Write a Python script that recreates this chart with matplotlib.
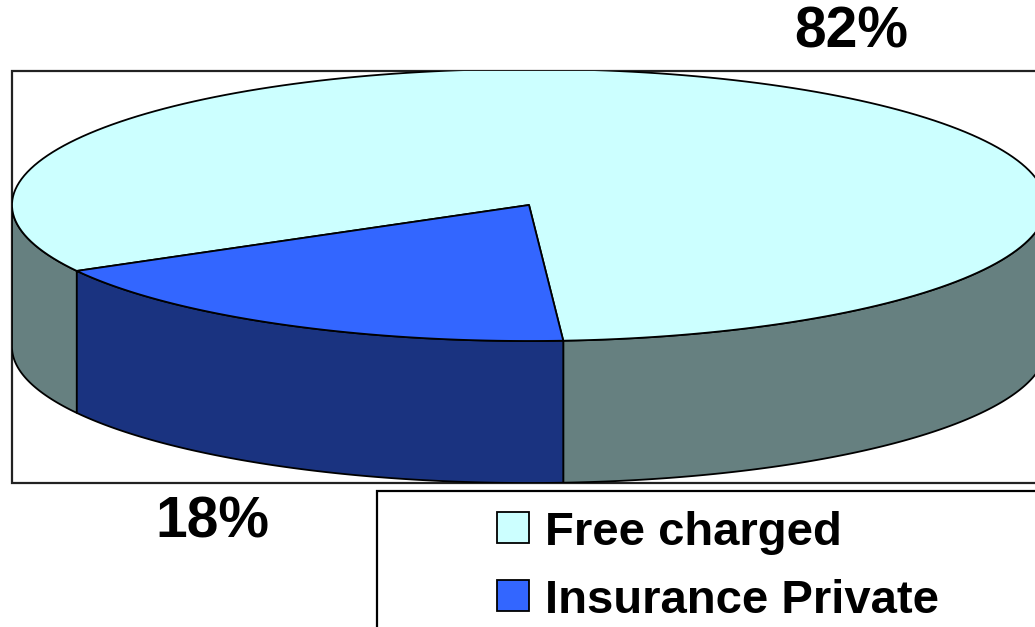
import numpy as np
import matplotlib.pyplot as plt
from matplotlib.patches import Polygon, Rectangle

# data
labels = ["Free charged", "Insurance Private"]
values = [82, 18]
pct_labels = ["82%", "18%"]
top_colors = ["#CCFFFF", "#3366FF"]
side_colors = ["#668080", "#1A3380"]

# layout (pixel units, y down)
W, H = 1035, 627
cx, cy = 529, 205
rx, ry = 517, 136
depth = 142
start = 151.0  # where the first slice starts, degrees, clockwise on screen
EDGE = dict(edgecolor="black", linewidth=1.3, joinstyle="round")

fig = plt.figure(figsize=(W / 100, H / 100), dpi=100)
ax = fig.add_axes([0, 0, 1, 1])
ax.set_xlim(0, W)
ax.set_ylim(H, 0)
ax.axis("off")

# plot area frame
frame = Rectangle((12, 71), 1060, 412, facecolor="white", edgecolor="#222222", linewidth=1.6, zorder=1)
ax.add_patch(frame)


def rim(t0, t1, dy=0.0, n=200):
    t = np.radians(np.linspace(t0, t1, n))
    return np.column_stack([cx + rx * np.cos(t), cy + dy + ry * np.sin(t)])


bounds = start + np.concatenate([[0], np.cumsum(values)]) * 360.0 / sum(values)

# side walls (only front half is visible: 0..180 deg)
for i in range(len(values)):
    a0, a1 = bounds[i], bounds[i + 1]
    for k in range(-1, 3):
        lo, hi = max(a0, 360 * k), min(a1, 360 * k + 180)
        if hi <= lo:
            continue
        pts = np.vstack([rim(lo, hi), rim(lo, hi, depth)[::-1]])
        p = Polygon(pts, closed=True, facecolor=side_colors[i], zorder=2, **EDGE)
        ax.add_patch(p)
        p.set_clip_path(frame)

# top surface
for i in range(len(values)):
    pts = np.vstack([[cx, cy], rim(bounds[i], bounds[i + 1])])
    p = Polygon(pts, closed=True, facecolor=top_colors[i], zorder=3, **EDGE)
    ax.add_patch(p)
    p.set_clip_path(frame)

# percentage labels
font = "Liberation Sans"
ax.text(851, 47, pct_labels[0], ha="center", va="baseline", fontsize=41,
        fontweight="bold", family=font, zorder=5)
ax.text(212, 537, pct_labels[1], ha="center", va="baseline", fontsize=41,
        fontweight="bold", family=font, zorder=5)

# legend
ax.add_patch(Rectangle((377, 491), 800, 300, facecolor="white", edgecolor="black",
                       linewidth=1.6, zorder=4))
for i, lab in enumerate(labels):
    y0 = 512 + i * 68
    ax.add_patch(Rectangle((497, y0), 32, 31, facecolor=top_colors[i], edgecolor="black",
                           linewidth=1.3, zorder=5))
    ax.text(545, y0 + 33, lab, ha="left", va="baseline", fontsize=34,
            fontweight="bold", family=font, zorder=5)

fig.savefig("out.png", dpi=100)
